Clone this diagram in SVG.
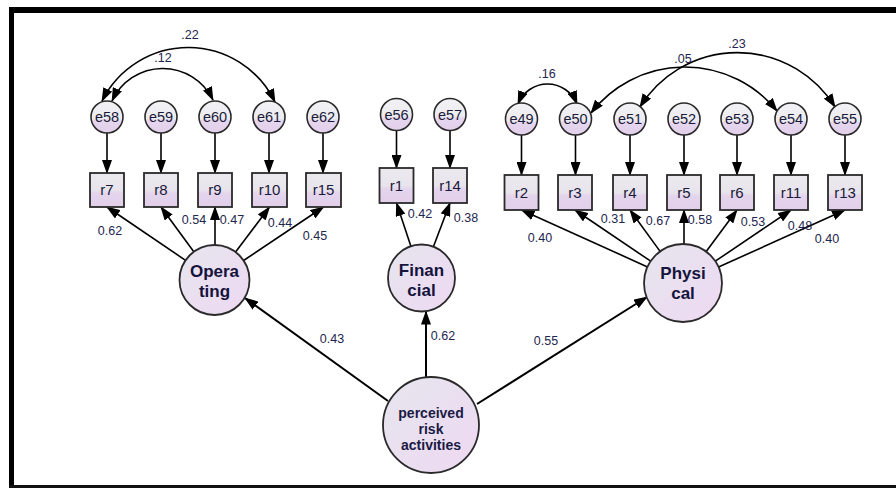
<svg xmlns="http://www.w3.org/2000/svg" width="896" height="488" viewBox="0 0 896 488">
<defs>
<linearGradient id="gE" x1="0" y1="0" x2="0" y2="1">
<stop offset="0" stop-color="#f2f1f4"/><stop offset="0.55" stop-color="#ecebef"/><stop offset="0.62" stop-color="#e5d5ed"/><stop offset="1" stop-color="#e3d0eb"/>
</linearGradient>
<linearGradient id="gR" x1="0" y1="0" x2="0" y2="1">
<stop offset="0" stop-color="#ebe9ee"/><stop offset="0.5" stop-color="#e8e4ec"/><stop offset="0.6" stop-color="#e4d4ec"/><stop offset="1" stop-color="#e2cfea"/>
</linearGradient>
<linearGradient id="gL" x1="0" y1="0" x2="1" y2="1">
<stop offset="0" stop-color="#e6e6ee"/><stop offset="1" stop-color="#eed8f2"/>
</linearGradient>
<marker id="ah" markerUnits="userSpaceOnUse" markerWidth="14" markerHeight="10" viewBox="0 0 14 10" refX="13" refY="5" orient="auto-start-reverse">
<path d="M0,0 L14,5 L0,10 z" fill="#000"/>
</marker>
<style>
.e{fill:url(#gE);stroke:#2a2a2a;stroke-width:1.6}
.r{fill:url(#gR);stroke:#2a2a2a;stroke-width:1.8}
.lat{fill:url(#gL);stroke:#2a2a2a;stroke-width:1.8}
.et{font-family:"Liberation Sans",Arial,sans-serif;font-size:14.5px;fill:#1a1a3a;text-anchor:middle}
.rt{font-family:"Liberation Sans",Arial,sans-serif;font-size:15px;fill:#1a1a3a;text-anchor:middle}
.lt{font-family:"Liberation Sans",Arial,sans-serif;font-size:17px;font-weight:bold;fill:#14143c;text-anchor:middle}
.pt{font-family:"Liberation Sans",Arial,sans-serif;font-size:14px;font-weight:bold;fill:#1a1a44;text-anchor:middle}
.n{font-family:"Liberation Sans",Arial,sans-serif;font-size:12.5px;fill:#1e2650;text-anchor:middle}
.c{fill:none;stroke:#000;stroke-width:1.6;marker-end:url(#ah)}
.cv{fill:none;stroke:#000;stroke-width:1.6;marker-start:url(#ah);marker-end:url(#ah)}
.m{fill:none;stroke:#000;stroke-width:2;marker-end:url(#ah)}
</style>
</defs>
<rect x="0" y="0" width="896" height="488" fill="#fff"/>
<!-- frame -->
<rect x="10" y="7" width="886" height="6" fill="#000"/>
<rect x="9" y="7" width="5" height="481" fill="#000"/>
<rect x="9" y="485" width="887" height="3" fill="#111"/>

<g id="connectors">
<!-- error to indicator -->
<line class="c" x1="107" y1="133" x2="107" y2="173"/>
<line class="c" x1="161" y1="133" x2="161" y2="173"/>
<line class="c" x1="215" y1="133" x2="215" y2="173"/>
<line class="c" x1="269" y1="133" x2="269" y2="173"/>
<line class="c" x1="323" y1="133" x2="323" y2="173"/>
<line class="c" x1="396.5" y1="130.5" x2="396.5" y2="168"/>
<line class="c" x1="450" y1="130.5" x2="450" y2="168"/>
<line class="c" x1="521.5" y1="135" x2="521.5" y2="175"/>
<line class="c" x1="575.5" y1="135" x2="575.5" y2="175"/>
<line class="c" x1="630" y1="135" x2="630" y2="175"/>
<line class="c" x1="684" y1="135" x2="684" y2="175"/>
<line class="c" x1="737" y1="135" x2="737" y2="175"/>
<line class="c" x1="791" y1="135" x2="791" y2="175"/>
<line class="c" x1="845" y1="135" x2="845" y2="175"/>
<!-- Operating loadings -->
<line class="c" x1="185.5" y1="260.3" x2="107" y2="207"/>
<line class="c" x1="193.8" y1="251.8" x2="161" y2="207"/>
<line class="c" x1="215" y1="245" x2="215" y2="207"/>
<line class="c" x1="235.6" y1="252" x2="269.5" y2="207"/>
<line class="c" x1="243.6" y1="260.5" x2="323.5" y2="207"/>
<!-- Financial loadings -->
<line class="c" x1="410.9" y1="246.2" x2="396.5" y2="203"/>
<line class="c" x1="433.4" y1="246.7" x2="450" y2="203"/>
<!-- Physical loadings -->
<line class="c" x1="647.5" y1="266.9" x2="521.5" y2="210"/>
<line class="c" x1="650.7" y1="261.2" x2="575" y2="210"/>
<line class="c" x1="660.1" y1="251.4" x2="630" y2="210"/>
<line class="c" x1="684" y1="244" x2="684" y2="210"/>
<line class="c" x1="706.2" y1="251.6" x2="737" y2="210"/>
<line class="c" x1="715.3" y1="261.2" x2="791" y2="210"/>
<line class="c" x1="718.6" y1="267" x2="845" y2="210"/>
<!-- structural -->
<line class="m" x1="388" y1="401" x2="245" y2="298"/>
<line class="m" x1="426" y1="377" x2="426" y2="311.5"/>
<line class="m" x1="477" y1="404" x2="647" y2="297"/>
<!-- covariances -->
<path class="cv" d="M102,101 A96.3,96.3 0 0 1 275,102"/>
<path class="cv" d="M112,101 A55.8,55.8 0 0 1 213,100"/>
<path class="cv" d="M518,104 A31.8,31.8 0 0 1 577,104"/>
<path class="cv" d="M591,113 A118.6,118.6 0 0 1 777,111"/>
<path class="cv" d="M640,107 A114.6,114.6 0 0 1 835,107"/>
</g>

<g id="labels">
<text class="n" x="190" y="39">.22</text>
<text class="n" x="163" y="62">.12</text>
<text class="n" x="547" y="78">.16</text>
<text class="n" x="683" y="63">.05</text>
<text class="n" x="737" y="48">.23</text>
<text class="n" x="110" y="235">0.62</text>
<text class="n" x="194" y="224">0.54</text>
<text class="n" x="232" y="224">0.47</text>
<text class="n" x="280" y="227">0.44</text>
<text class="n" x="315" y="240">0.45</text>
<text class="n" x="420" y="218">0.42</text>
<text class="n" x="466" y="222">0.38</text>
<text class="n" x="540" y="242">0.40</text>
<text class="n" x="613" y="223">0.31</text>
<text class="n" x="658" y="225">0.67</text>
<text class="n" x="700" y="224">0.58</text>
<text class="n" x="753" y="226">0.53</text>
<text class="n" x="800" y="230">0.48</text>
<text class="n" x="827" y="243">0.40</text>
<text class="n" x="332" y="343">0.43</text>
<text class="n" x="443" y="340">0.62</text>
<text class="n" x="546" y="345">0.55</text>
</g>

<!-- error nodes -->
<g id="e58"><circle class="e" cx="107" cy="117" r="16"/><text class="et" x="107" y="122">e58</text></g>
<g id="e59"><circle class="e" cx="161" cy="117" r="16"/><text class="et" x="161" y="122">e59</text></g>
<g id="e60"><circle class="e" cx="215" cy="117" r="16"/><text class="et" x="215" y="122">e60</text></g>
<g id="e61"><circle class="e" cx="269" cy="117" r="16"/><text class="et" x="269" y="122">e61</text></g>
<g id="e62"><circle class="e" cx="323" cy="117" r="16"/><text class="et" x="323" y="122">e62</text></g>
<g id="e56"><circle class="e" cx="396.5" cy="114.5" r="16"/><text class="et" x="396.5" y="119.5">e56</text></g>
<g id="e57"><circle class="e" cx="450" cy="114.5" r="16"/><text class="et" x="450" y="119.5">e57</text></g>
<g id="e49"><circle class="e" cx="521.5" cy="119" r="16"/><text class="et" x="521.5" y="124">e49</text></g>
<g id="e50"><circle class="e" cx="575.5" cy="119" r="16"/><text class="et" x="575.5" y="124">e50</text></g>
<g id="e51"><circle class="e" cx="630" cy="119" r="16"/><text class="et" x="630" y="124">e51</text></g>
<g id="e52"><circle class="e" cx="684" cy="119" r="16"/><text class="et" x="684" y="124">e52</text></g>
<g id="e53"><circle class="e" cx="737" cy="119" r="16"/><text class="et" x="737" y="124">e53</text></g>
<g id="e54"><circle class="e" cx="791" cy="119" r="16"/><text class="et" x="791" y="124">e54</text></g>
<g id="e55"><circle class="e" cx="845" cy="119" r="16"/><text class="et" x="845" y="124">e55</text></g>

<!-- indicators -->
<g id="r7"><rect class="r" x="90" y="173" width="34" height="34"/><text class="rt" x="107" y="195">r7</text></g>
<g id="r8"><rect class="r" x="144" y="173" width="34" height="34"/><text class="rt" x="161" y="195">r8</text></g>
<g id="r9"><rect class="r" x="198" y="173" width="34" height="34"/><text class="rt" x="215" y="195">r9</text></g>
<g id="r10"><rect class="r" x="252" y="173" width="35" height="34"/><text class="rt" x="269.5" y="195">r10</text></g>
<g id="r15"><rect class="r" x="306" y="173" width="35" height="34"/><text class="rt" x="323.5" y="195">r15</text></g>
<g id="r1"><rect class="r" x="379.5" y="168" width="34" height="35"/><text class="rt" x="396.5" y="191">r1</text></g>
<g id="r14"><rect class="r" x="433" y="168" width="34" height="35"/><text class="rt" x="450" y="191">r14</text></g>
<g id="r2"><rect class="r" x="504.5" y="175" width="34" height="35"/><text class="rt" x="521.5" y="198">r2</text></g>
<g id="r3"><rect class="r" x="558" y="175" width="34" height="35"/><text class="rt" x="575" y="198">r3</text></g>
<g id="r4"><rect class="r" x="613" y="175" width="34" height="35"/><text class="rt" x="630" y="198">r4</text></g>
<g id="r5"><rect class="r" x="667" y="175" width="34" height="35"/><text class="rt" x="684" y="198">r5</text></g>
<g id="r6"><rect class="r" x="720" y="175" width="34" height="35"/><text class="rt" x="737" y="198">r6</text></g>
<g id="r11"><rect class="r" x="774" y="175" width="34" height="35"/><text class="rt" x="791" y="198">r11</text></g>
<g id="r13"><rect class="r" x="828" y="175" width="34" height="35"/><text class="rt" x="845" y="198">r13</text></g>

<!-- latent -->
<g id="operating"><circle class="lat" cx="214.5" cy="280" r="35"/><text class="lt" x="214.5" y="277">Opera</text><text class="lt" x="214.5" y="297">ting</text></g>
<g id="financial"><circle class="lat" cx="421.5" cy="278" r="33.5"/><text class="lt" x="421.5" y="276">Finan</text><text class="lt" x="421.5" y="296">cial</text></g>
<g id="physical"><circle class="lat" cx="683" cy="283" r="39"/><text class="lt" x="683" y="279">Physi</text><text class="lt" x="683" y="299">cal</text></g>
<g id="perceived"><circle class="lat" cx="431" cy="425" r="48"/><text class="pt" x="431" y="417.5">perceived</text><text class="pt" x="431" y="433.5">risk</text><text class="pt" x="431" y="449.5">activities</text></g>
</svg>
